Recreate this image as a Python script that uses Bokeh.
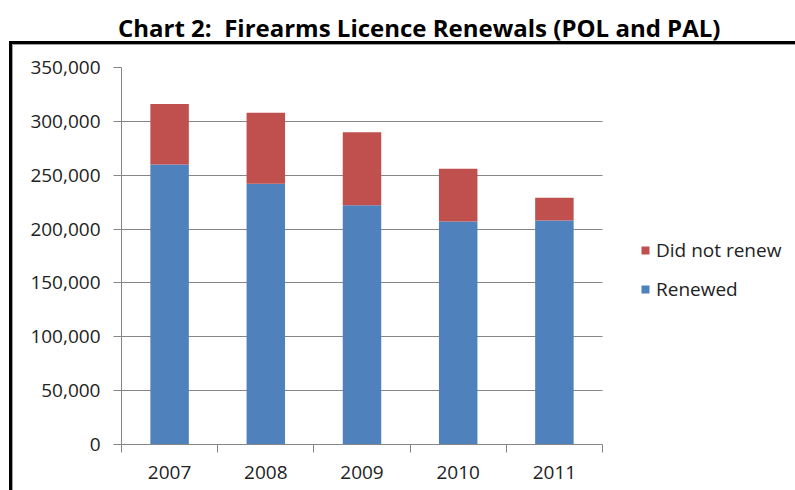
from bokeh.plotting import figure
from bokeh.models import (FixedTicker, NumeralTickFormatter, Legend, LegendItem,
                          Range1d, ColumnDataSource, Div, Spacer)
from bokeh.layouts import column, row
from bokeh.embed import file_html
from bokeh.resources import INLINE

title_text = "Chart 2:&nbsp; Firearms Licence Renewals (POL and PAL)"
years = ["2007", "2008", "2009", "2010", "2011"]
renewed = [260000, 242000, 222000, 207000, 208000]
did_not_renew = [56000, 66000, 68000, 49000, 21000]
y_ticks = [0, 50000, 100000, 150000, 200000, 250000, 300000, 350000]

BLUE = "#4F81BD"
RED = "#C0504D"
GRID = "#868686"
TXT = "#222222"
FONT = "Open Sans"

W, H = 782, 445
LEFT, TOP, BOTTOM = 108, 22, 46
PLOT_W = 481  # width of the category area in px
n = len(years)
frame_w = W - LEFT
x_end = n * frame_w / PLOT_W

xs = [i + 0.5 for i in range(n)]
src = ColumnDataSource(dict(x=xs, renewed=renewed, did_not_renew=did_not_renew))

p = figure(width=W, height=H, output_backend="svg", toolbar_location=None,
           x_range=Range1d(0, x_end), y_range=Range1d(0, 350000),
           min_border_left=LEFT, min_border_right=0, min_border_top=TOP,
           min_border_bottom=BOTTOM)
p.styles = {"box-shadow": "0 0 0 1px #A0A0A0, 0 0 0 4px #000000"}

rs = p.vbar_stack(["renewed", "did_not_renew"], x="x", width=0.4, source=src,
                  color=[BLUE, RED], line_color=None)

p.outline_line_color = None
p.background_fill_color = "white"
p.border_fill_color = "white"

p.xgrid.grid_line_color = None
p.ygrid.grid_line_color = GRID
p.ygrid.grid_line_width = 1
p.ygrid.ticker = FixedTicker(ticks=y_ticks)
p.ygrid.cross_bounds = (0, n)

p.yaxis.ticker = FixedTicker(ticks=y_ticks)
p.yaxis.formatter = NumeralTickFormatter(format="0,0")
p.yaxis.axis_line_color = GRID
p.yaxis.major_tick_line_color = GRID
p.yaxis.major_tick_out = 8
p.yaxis.major_tick_in = 0
p.yaxis.minor_tick_line_color = None
p.yaxis.major_label_standoff = 13
p.yaxis.major_label_text_font = FONT
p.yaxis.major_label_text_font_size = "19px"
p.yaxis.major_label_text_color = TXT

p.xaxis.bounds = (0, n)
p.xaxis.ticker = FixedTicker(ticks=xs, minor_ticks=list(range(n + 1)))
p.xaxis.major_label_overrides = {x: y for x, y in zip(xs, years)}
p.xaxis.axis_line_color = GRID
p.xaxis.major_tick_line_color = None
p.xaxis.major_tick_out = 0
p.xaxis.major_tick_in = 0
p.xaxis.minor_tick_line_color = GRID
p.xaxis.minor_tick_out = 8
p.xaxis.minor_tick_in = 0
p.xaxis.major_label_standoff = 13
p.xaxis.major_label_text_font = FONT
p.xaxis.major_label_text_font_size = "19px"
p.xaxis.major_label_text_color = TXT

legend = Legend(items=[LegendItem(label="Did not renew", renderers=[rs[1]]),
                       LegendItem(label="Renewed", renderers=[rs[0]])],
                location=(519, 142))
legend.glyph_width = 10
legend.glyph_height = 10
legend.label_standoff = 6
legend.label_height = 23
legend.spacing = 13
legend.padding = 0
legend.margin = 0
legend.border_line_color = None
legend.background_fill_alpha = 0
legend.label_text_font = FONT
legend.label_text_font_size = "19px"
legend.label_text_color = TXT
p.add_layout(legend, "center")

title = Div(text='<div style="font-family: \'Open Sans\'; font-weight: bold; '
                 'font-size: 24px; line-height: 32px; color: #000; white-space: nowrap; '
                 'padding-top: 12px; padding-left: 118px;">' + title_text + '</div>',
            width=795, height=45, margin=0)

layout = column(title, row(Spacer(width=13, height=H, margin=0), p))

open("out.html", "w").write(file_html(layout, INLINE))
